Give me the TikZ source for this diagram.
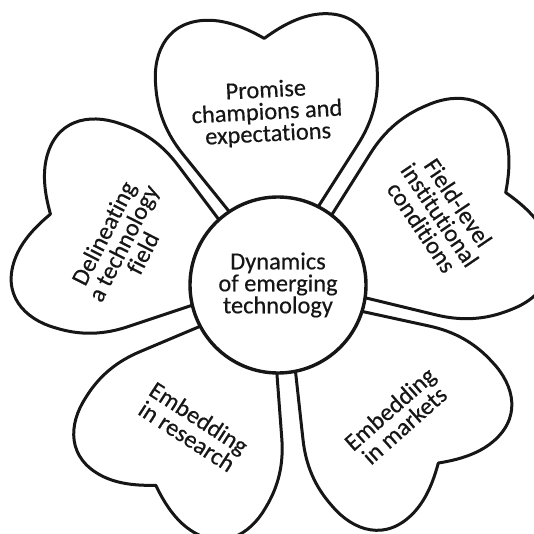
\documentclass[tikz,border=0pt]{standalone}
\usepackage{fontspec}
\setmainfont{Carlito}[Ligatures={NoCommon}, FakeBold=0.4]
\definecolor{inkblack}{HTML}{161616}
% one heart, tip towards the hub, lobes along +x
\newcommand{\petal}{(14,0) -- (135,87) .. controls (157,103) and (180,111) .. (207,111)
  .. controls (240,112) and (272,95) .. (268,52) .. controls (266,32) and (256,14) .. (247,0)
  .. controls (256,-14) and (266,-32) .. (268,-52) .. controls (272,-95) and (240,-112) .. (207,-111)
  .. controls (180,-111) and (157,-103) .. (135,-87) -- cycle}

\begin{document}
\begin{tikzpicture}[
  x=0.5pt, y=0.5pt,
  petalline/.style={draw=inkblack, line width=1.5pt, line join=round},
  petaltext/.style={font=\fontsize{12.2}{11}\selectfont, text=inkblack, align=center},
]

% Fixed frame, same margins as the reference
\useasboundingbox (-278, -249) rectangle (256, 285);

% Five heart petals, tips hidden under the hub
\draw[petalline, rotate=93.2] \petal;
\draw[petalline, rotate=22.1, scale=0.995] \petal;
\draw[petalline, rotate=162.7, scale=0.965] \petal;
\draw[petalline, rotate=238.6, scale=0.95] \petal;
\draw[petalline, rotate=312, scale=0.97] \petal;

% Hub
\node[petaltext, circle, draw=inkblack, line width=1.7pt, fill=white,
  minimum size=88pt, inner sep=0pt] (dynamics) at (0, 0) {Dynamics\\of emerging\\technology};

% Petal labels
\node[petaltext, rotate=3] (promise) at (-11, 172) {Promise\\champions and\\expectations};
\node[petaltext, rotate=-56] (fieldlevel) at (162, 70) {Field-level\\institutional\\conditions};
\node[petaltext, rotate=63] (delineating) at (-155, 42) {Delineating\\a technology\\field};
\node[petaltext, rotate=-33] (research) at (-85, -142) {Embedding\\in research};
\node[petaltext, rotate=41.5] (markets) at (119, -132) {Embedding\\in markets};

\end{tikzpicture}
\end{document}
